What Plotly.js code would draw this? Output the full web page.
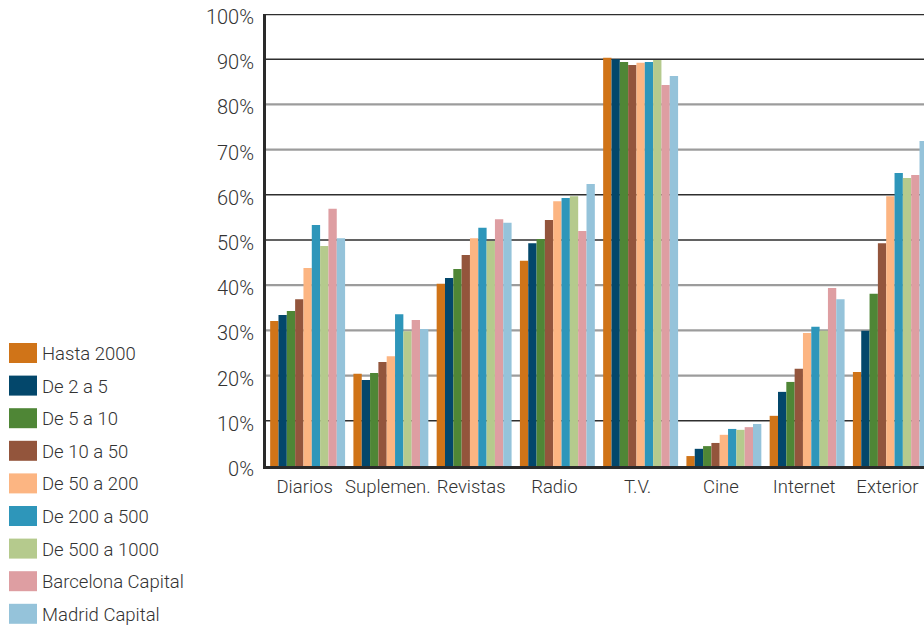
<!DOCTYPE html>
<html>
<head>
<meta charset="utf-8">
<script src="https://cdn.plot.ly/plotly-3.0.1.min.js"></script>
<style>
  html, body { margin: 0; padding: 0; overflow: hidden; background: #fff; }
  #chart { width: 934px; height: 627px; }
</style>
</head>
<body>
<div id="chart"></div>
<script>
// Media reach by municipality size (% of population)
const categories = ['Diarios', 'Suplemen.', 'Revistas', 'Radio', 'T.V.', 'Cine', 'Internet', 'Exterior'];

const seriesNames = ['Hasta 2000', 'De 2 a 5', 'De 5 a 10', 'De 10 a 50', 'De 50 a 200',
                     'De 200 a 500', 'De 500 a 1000', 'Barcelona Capital', 'Madrid Capital'];

const hasta2000  = [32.1, 20.4, 40.3, 45.4, 90.3, 2.2, 11.1, 20.8];
const de2a5      = [33.4, 19.0, 41.6, 49.3, 90.0, 3.8, 16.4, 29.9];
const de5a10     = [34.3, 20.6, 43.6, 50.2, 89.4, 4.4, 18.6, 38.1];
const de10a50    = [36.9, 23.0, 46.7, 54.4, 88.7, 5.1, 21.5, 49.3];
const de50a200   = [43.8, 24.3, 50.4, 58.6, 89.2, 6.9, 29.4, 59.7];
const de200a500  = [53.3, 33.6, 52.7, 59.3, 89.4, 8.2, 30.8, 64.8];
const de500a1000 = [48.7, 29.8, 49.8, 59.7, 89.8, 8.0, 29.9, 63.7];
const barcelona  = [56.9, 32.3, 54.6, 52.0, 84.3, 8.6, 39.4, 64.4];
const madrid     = [50.4, 30.3, 53.8, 62.4, 86.3, 9.3, 36.9, 71.9];

const seriesValues = [hasta2000, de2a5, de5a10, de10a50, de50a200, de200a500, de500a1000, barcelona, madrid];

const colors = ['#D07418', '#03476B', '#4F8636', '#93553C', '#FCB582',
                '#2E96BA', '#B5CA8D', '#DE9EA2', '#95C3DA'];

const FONT = 'Roboto, "Open Sans", sans-serif';
const TEXT = '#333333';
const WEIGHT = 300;

const traces = seriesNames.map((name, i) => ({
  type: 'bar',
  name: name,
  x: categories,
  y: seriesValues[i],
  marker: { color: colors[i], line: { width: 0 } },
  hoverinfo: 'x+y+name'
}));

// Plot box in pixels
const W = 934, H = 627;
const M = { l: 266, r: 2, t: 14, b: 161 };
const plotW = W - M.l - M.r;
const plotH = H - M.t - M.b;
const px = x => (x - M.l) / plotW;
const py = y => (H - M.b - y) / plotH;

// Horizontal rules: dark thin and grey double-width lines
const gridLevels = [10, 20, 30, 40, 50, 60, 70, 80, 90, 100];
const darkLevels = [10, 50, 60, 90, 100];
const shapes = gridLevels.map(v => {
  const dark = darkLevels.includes(v);
  return {
    type: 'line', xref: 'paper', yref: 'y', x0: 0, x1: 1, y0: v, y1: v,
    layer: 'below',
    line: { color: dark ? '#2e2e2e' : '#9c9c9c', width: v === 100 ? 2.5 : (dark ? 1.4 : 2.2) }
  };
});

// Legend built as swatches and labels on the left
const annotations = [];
seriesNames.forEach((name, i) => {
  const cy = 353 + i * 32.6;
  shapes.push({
    type: 'rect', xref: 'paper', yref: 'paper',
    x0: px(9), x1: px(37), y0: py(cy - 10), y1: py(cy + 10),
    fillcolor: colors[i], line: { width: 0 }
  });
  annotations.push({
    xref: 'paper', yref: 'paper', x: px(40), y: py(cy + 1),
    xanchor: 'left', yanchor: 'middle', showarrow: false,
    text: name, font: { family: FONT, size: 18.5, color: TEXT, weight: WEIGHT }
  });
});

const layout = {
  width: W, height: H,
  margin: M,
  paper_bgcolor: '#ffffff', plot_bgcolor: '#ffffff',
  barmode: 'group', bargap: 0.1, bargroupgap: 0,
  showlegend: false,
  font: { family: FONT, color: TEXT, weight: WEIGHT },
  xaxis: {
    type: 'category',
    range: [-0.5, categories.length - 0.5],
    showgrid: false, zeroline: false,
    showline: true, linecolor: '#2a2a2a', linewidth: 3,
    ticks: '', ticklabelstandoff: 2, ticklabelshift: -3,
    tickfont: { family: FONT, size: 18.5, color: TEXT, weight: WEIGHT },
    fixedrange: true
  },
  yaxis: {
    range: [0, 100], dtick: 10, ticksuffix: '%',
    showgrid: false, zeroline: false,
    showline: true, linecolor: '#2a2a2a', linewidth: 3,
    ticks: '', ticklabelstandoff: 5, ticklabelshift: 3,
    tickfont: { family: FONT, size: 20, color: TEXT, weight: WEIGHT },
    fixedrange: true
  },
  shapes: shapes,
  annotations: annotations
};

Plotly.newPlot('chart', traces, layout, { displayModeBar: false, staticPlot: true });
</script>
</body>
</html>
